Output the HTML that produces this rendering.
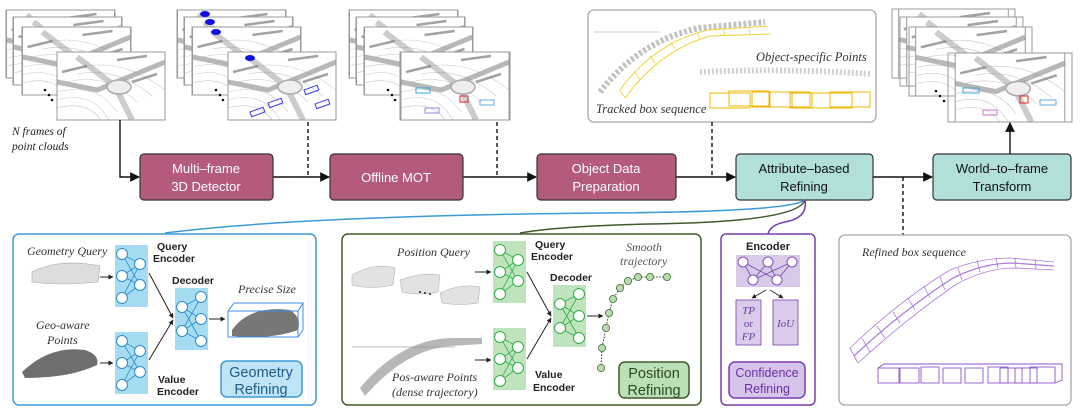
<!DOCTYPE html>
<html><head><meta charset="utf-8"><style>
html,body{margin:0;padding:0;background:#fff;}
svg{display:block;}
.s{font-family:"Liberation Sans",sans-serif;}
.i{font-family:"Liberation Serif",serif;font-style:italic;}
</style></head><body>
<svg width="1080" height="415" viewBox="0 0 1080 415" xmlns="http://www.w3.org/2000/svg">
<defs>
<marker id="ah" viewBox="0 0 10 10" refX="9" refY="5" markerWidth="7" markerHeight="7" orient="auto"><path d="M0,0L10,5L0,10z" fill="#111"/></marker>
<marker id="ahs" viewBox="0 0 10 10" refX="9" refY="5" markerWidth="5" markerHeight="5" orient="auto"><path d="M0,0L10,5L0,10z" fill="#222"/></marker>
<symbol id="pc" viewBox="0 0 108 68">
<rect x="0" y="0" width="108" height="68" fill="#fff"/>
<g fill="none" stroke="#c8c8c8" stroke-width="0.6">
<path d="M0,40 Q40,30 60,60"/><path d="M0,48 Q35,38 52,68"/><path d="M0,56 Q30,48 44,68"/><path d="M10,30 Q50,20 80,50"/><path d="M20,22 Q60,14 95,44"/><path d="M30,14 Q70,8 108,38"/>
</g>
<path d="M0,30 L40,38 L108,10" stroke="#888" stroke-width="5" fill="none" opacity="0.6"/>
<path d="M20,5 L58,34 L75,68" stroke="#999" stroke-width="6" fill="none" opacity="0.5"/>
<ellipse cx="62" cy="35" rx="12" ry="7" fill="#eee" stroke="#aaa" stroke-width="1.5"/>
<path d="M5,20 L30,14 M60,8 L90,4 M75,30 L100,22" stroke="#666" stroke-width="2.5" opacity="0.6"/>
</symbol>
</defs>

<!-- stacks -->
<g stroke="#9a9a9a" stroke-width="1">
<svg x="6" y="10" width="109" height="68"><use href="#pc"/></svg><rect x="6" y="10" width="109" height="68" fill="none"/>
<svg x="13" y="17" width="109" height="68"><use href="#pc"/></svg><rect x="13" y="17" width="109" height="68" fill="none"/>
<svg x="22" y="27" width="109" height="68"><use href="#pc"/></svg><rect x="22" y="27" width="109" height="68" fill="none"/>
<svg x="57" y="52" width="108" height="68"><use href="#pc"/></svg><rect x="57" y="52" width="108" height="68" fill="none"/>

<svg x="177" y="10" width="109" height="68"><use href="#pc"/></svg><rect x="177" y="10" width="109" height="68" fill="none"/>
<svg x="184" y="17" width="109" height="68"><use href="#pc"/></svg><rect x="184" y="17" width="109" height="68" fill="none"/>
<svg x="192" y="27" width="109" height="68"><use href="#pc"/></svg><rect x="192" y="27" width="109" height="68" fill="none"/>
<svg x="228" y="52" width="108" height="68"><use href="#pc"/></svg><rect x="228" y="52" width="108" height="68" fill="none"/>

<svg x="349" y="10" width="109" height="68"><use href="#pc"/></svg><rect x="349" y="10" width="109" height="68" fill="none"/>
<svg x="356" y="17" width="109" height="68"><use href="#pc"/></svg><rect x="356" y="17" width="109" height="68" fill="none"/>
<svg x="364" y="27" width="109" height="68"><use href="#pc"/></svg><rect x="364" y="27" width="109" height="68" fill="none"/>
<svg x="400" y="52" width="110" height="68"><use href="#pc"/></svg><rect x="400" y="52" width="110" height="68" fill="none"/>

<svg x="892" y="9" width="123" height="69"><use href="#pc"/></svg><rect x="892" y="9" width="123" height="69" fill="none"/>
<svg x="900" y="17" width="123" height="69"><use href="#pc"/></svg><rect x="900" y="17" width="123" height="69" fill="none"/>
<svg x="909" y="27" width="123" height="69"><use href="#pc"/></svg><rect x="909" y="27" width="123" height="69" fill="none"/>
<svg x="948" y="53" width="124" height="69"><use href="#pc"/></svg><rect x="948" y="53" width="124" height="69" fill="none"/>
</g>
<!-- colored boxes on stacks -->
<g fill="none" stroke="#3a3af0" stroke-width="1">
<rect x="250" y="112" width="14" height="5" transform="rotate(-20 250 112)"/><rect x="268" y="103" width="14" height="5" transform="rotate(-20 268 103)"/><rect x="304" y="90" width="14" height="5" transform="rotate(-20 304 90)"/><rect x="315" y="104" width="14" height="5" transform="rotate(-20 315 104)"/>
</g>
<g fill="#1010e0"><ellipse cx="250" cy="58" rx="5" ry="3"/><ellipse cx="205" cy="14" rx="5" ry="3"/><ellipse cx="210" cy="22" rx="5" ry="3"/><ellipse cx="216" cy="32" rx="5" ry="3"/></g>
<g fill="none" stroke-width="1"><rect x="416" y="88" width="14" height="5" stroke="#3aa8d8"/><rect x="460" y="96" width="8" height="6" stroke="#e02020"/><rect x="480" y="100" width="14" height="5" stroke="#6ad" /><rect x="425" y="108" width="14" height="5" stroke="#8a8af0"/>
<rect x="963" y="88" width="16" height="5" stroke="#3aa8d8"/><rect x="1020" y="96" width="8" height="7" stroke="#e02020"/><rect x="1040" y="100" width="16" height="5" stroke="#6ad"/><rect x="983" y="110" width="14" height="5" stroke="#d070d0"/></g>
<g fill="#111"><circle cx="45" cy="90" r="1.3"/><circle cx="49" cy="95" r="1.3"/><circle cx="52" cy="100" r="1.3"/>
<circle cx="216" cy="90" r="1.3"/><circle cx="220" cy="95" r="1.3"/><circle cx="223" cy="100" r="1.3"/>
<circle cx="388" cy="90" r="1.3"/><circle cx="392" cy="95" r="1.3"/><circle cx="395" cy="100" r="1.3"/>
<circle cx="936" cy="91" r="1.3"/><circle cx="940" cy="96" r="1.3"/><circle cx="944" cy="101" r="1.3"/></g>

<text class="i" x="12" y="135" font-size="11.5" fill="#222">N  frames of</text>
<text class="i" x="12" y="150" font-size="11.5" fill="#222">point clouds</text>

<!-- tracked panel -->
<rect x="588" y="10" width="288" height="112" rx="6" fill="#fff" stroke="#a8a8a8" stroke-width="1.3"/>
<line x1="594" y1="32" x2="660" y2="32" stroke="#ccc"/>
<path d="M600,92 Q640,40 700,28 L765,22" stroke="#888" stroke-width="6" fill="none" opacity="0.5" stroke-dasharray="3 2"/>
<path d="M625,98 Q660,50 710,36 L770,34 M620,90 Q655,42 708,30 L768,26" stroke="#f2d23a" stroke-width="1" fill="none"/>
<path d="M625,98 L620,90 M640,80 L635,72 M655,63 L650,56 M675,48 L670,42 M700,40 L697,32 M725,36 L723,28 M750,35 L749,27" stroke="#f2d23a" stroke-width="0.8"/>
<path d="M700,72 Q780,68 872,74" stroke="#999" stroke-width="6" fill="none" opacity="0.45" stroke-dasharray="2 2"/>
<text class="i" x="756" y="61" font-size="12.5" fill="#333">Object-specific Points</text>
<text class="i" x="596" y="113" font-size="12.5" fill="#333">Tracked box sequence</text>
<g fill="none" stroke="#f0b400" stroke-width="1">
<rect x="710" y="93" width="40" height="15"/><rect x="729" y="91" width="40" height="15"/><rect x="752" y="92" width="40" height="15"/><rect x="770" y="92" width="40" height="15"/><rect x="790" y="93" width="40" height="15"/><rect x="812" y="93" width="40" height="15"/><rect x="830" y="92" width="40" height="15"/></g>

<!-- main flow lines -->
<g stroke="#111" stroke-width="1.4" fill="none">
<path d="M120,120 V177 H139" marker-end="url(#ah)"/>
<path d="M273,177 H329" marker-end="url(#ah)"/>
<path d="M463,177 H536" marker-end="url(#ah)"/>
<path d="M676,177 H735" marker-end="url(#ah)"/>
<path d="M873,177 H932" marker-end="url(#ah)"/>
<path d="M1010,154 V123" marker-end="url(#ah)"/>
</g>
<g stroke="#111" stroke-width="1.4" stroke-dasharray="4 3" fill="none">
<path d="M308,122 V177"/><path d="M497,122 V177"/><path d="M712,122 V177"/><path d="M903,177 V235"/>
</g>

<!-- pipeline boxes -->
<g stroke="#333" stroke-width="1.2">
<rect x="140" y="154" width="133" height="46" rx="4" fill="#b45b7d"/>
<rect x="330" y="154" width="133" height="46" rx="4" fill="#b45b7d"/>
<rect x="537" y="154" width="139" height="46" rx="4" fill="#b45b7d"/>
<rect x="736" y="154" width="137" height="46" rx="4" fill="#b1dfda"/>
<rect x="933" y="154" width="138" height="46" rx="4" fill="#b1dfda"/>
</g>
<g class="s" font-size="13" text-anchor="middle">
<text x="206" y="173" fill="#fff">Multi–frame</text><text x="206" y="191" fill="#fff">3D Detector</text>
<text x="396" y="182" fill="#fff">Offline MOT</text>
<text x="606" y="173" fill="#fff">Object Data</text><text x="606" y="191" fill="#fff">Preparation</text>
<text x="804" y="173" fill="#111">Attribute–based</text><text x="804" y="191" fill="#111">Refining</text>
<text x="1002" y="173" fill="#111">World–to–frame</text><text x="1002" y="191" fill="#111">Transform</text>
</g>

<!-- curves -->
<path d="M805,200 Q790,212 600,213 Q300,216 165,233" stroke="#3d9ad6" stroke-width="1.5" fill="none"/>
<path d="M805,200 Q798,222 650,224 Q560,226 520,233" stroke="#3e5a2c" stroke-width="1.5" fill="none"/>
<path d="M805,200 Q808,218 785,222 Q770,225 768,234" stroke="#7a3fb0" stroke-width="1.5" fill="none"/>

<!-- Geometry panel -->
<rect x="13" y="234" width="303" height="171" rx="6" fill="#fff" stroke="#3d9ad6" stroke-width="1.5"/>
<text class="i" x="27" y="255" font-size="12" fill="#333">Geometry Query</text>
<path d="M32,272 Q60,258 100,266 L98,282 Q60,286 32,282z" fill="#ddd" stroke="#aaa" stroke-width="0.6"/>
<text class="i" x="36" y="329" font-size="12" fill="#333">Geo-aware</text>
<text class="i" x="47" y="344" font-size="12" fill="#333">Points</text>
<path d="M22,372 Q50,345 85,350 Q100,355 97,365 Q70,378 25,378z" fill="#6e6e6e"/>
<g stroke="#222" stroke-width="1" fill="none">
<path d="M100,277 H113" marker-end="url(#ahs)"/><path d="M100,363 H113" marker-end="url(#ahs)"/>
<path d="M149,273 L173,318" marker-end="url(#ahs)"/><path d="M149,360 L173,320" marker-end="url(#ahs)"/>
<path d="M209,319 H225" marker-end="url(#ahs)"/>
</g>
<g id="nn1">
<rect x="115" y="245" width="33" height="62" fill="#a6dcf1"/>
<rect x="115" y="332" width="33" height="62" fill="#a6dcf1"/>
<rect x="175" y="288" width="33" height="62" fill="#a6dcf1"/>
</g>
<g stroke="#2a8ad0" stroke-width="0.8" fill="none">
<path d="M122,254 L140,264 M122,254 L140,285 M122,276 L140,264 M122,276 L140,285 M122,298 L140,264 M122,298 L140,285"/>
<path d="M122,341 L140,351 M122,341 L140,372 M122,363 L140,351 M122,363 L140,372 M122,385 L140,351 M122,385 L140,372"/>
<path d="M182,307 L201,297 M182,307 L201,319 M182,307 L201,341 M182,331 L201,297 M182,331 L201,319 M182,331 L201,341"/>
</g>
<g fill="#fff" stroke="#2a8ad0" stroke-width="1">
<circle cx="122" cy="254" r="5.5"/><circle cx="122" cy="276" r="5.5"/><circle cx="122" cy="298" r="5.5"/><circle cx="140" cy="264" r="5.5"/><circle cx="140" cy="285" r="5.5"/>
<circle cx="122" cy="341" r="5.5"/><circle cx="122" cy="363" r="5.5"/><circle cx="122" cy="385" r="5.5"/><circle cx="140" cy="351" r="5.5"/><circle cx="140" cy="372" r="5.5"/>
<circle cx="182" cy="307" r="5.5"/><circle cx="182" cy="331" r="5.5"/><circle cx="201" cy="297" r="5.5"/><circle cx="201" cy="319" r="5.5"/><circle cx="201" cy="341" r="5.5"/>
</g>
<g class="s" font-size="10.5" font-weight="bold" fill="#222">
<text x="157" y="250">Query</text><text x="153" y="262">Encoder</text>
<text x="172" y="284">Decoder</text>
<text x="158" y="383">Value</text><text x="157" y="395">Encoder</text>
</g>
<text class="i" x="238" y="293" font-size="12" fill="#333">Precise Size</text>
<path d="M232,330 Q250,305 290,310 Q302,318 298,330 Q270,340 232,336z" fill="#777"/>
<g fill="none" stroke="#3d8ee6" stroke-width="1"><rect x="228" y="311" width="70" height="26"/><path d="M228,311 L234,303 H303 L298,311 M303,303 V330 L298,337"/></g>
<rect x="221" y="361" width="81" height="36" rx="6" fill="#bfe4f6" stroke="#3d9ad6" stroke-width="1.5"/>
<text class="s" x="261" y="377" font-size="14.5" text-anchor="middle" fill="#1c5d8a">Geometry</text>
<text class="s" x="261" y="394" font-size="14.5" text-anchor="middle" fill="#1c5d8a">Refining</text>

<!-- Position panel -->
<rect x="342" y="234" width="359" height="171" rx="6" fill="#fff" stroke="#3e5a2c" stroke-width="1.5"/>
<text class="i" x="397" y="256" font-size="12" fill="#333">Position Query</text>
<g fill="#e2e2e2" stroke="#aaa" stroke-width="0.5">
<path d="M352,275 Q375,262 395,268 L393,285 Q370,290 352,285z"/><path d="M400,280 Q420,272 440,275 L438,292 Q420,296 402,292z"/><path d="M440,293 Q460,283 480,287 L478,303 Q460,306 442,303z"/></g>
<g fill="#222"><circle cx="420" cy="292" r="1"/><circle cx="425" cy="293" r="1"/><circle cx="430" cy="294" r="1"/></g>
<line x1="352" y1="347" x2="455" y2="347" stroke="#bbb"/>
<path d="M360,388 Q400,340 450,338 L482,338 L482,344 L450,346 Q405,350 365,396z" fill="#999" opacity="0.7"/>
<text class="i" x="392" y="381" font-size="12" fill="#333">Pos-aware Points</text>
<text class="i" x="392" y="396" font-size="12" fill="#333">(dense trajectory)</text>
<g stroke="#222" stroke-width="1" fill="none">
<path d="M475,272 H491" marker-end="url(#ahs)"/><path d="M475,360 H491" marker-end="url(#ahs)"/>
<path d="M527,272 L551,316" marker-end="url(#ahs)"/><path d="M527,359 L551,318" marker-end="url(#ahs)"/>
<path d="M587,316 H603" marker-end="url(#ahs)"/>
</g>
<rect x="493" y="241" width="33" height="62" fill="#bfe3bd"/>
<rect x="493" y="328" width="33" height="62" fill="#bfe3bd"/>
<rect x="553" y="285" width="33" height="62" fill="#bfe3bd"/>
<g stroke="#2fb046" stroke-width="0.8" fill="none">
<path d="M500,250 L518,260 M500,250 L518,281 M500,272 L518,260 M500,272 L518,281 M500,294 L518,260 M500,294 L518,281"/>
<path d="M500,337 L518,347 M500,337 L518,368 M500,359 L518,347 M500,359 L518,368 M500,381 L518,347 M500,381 L518,368"/>
<path d="M560,304 L579,294 M560,304 L579,316 M560,304 L579,338 M560,328 L579,294 M560,328 L579,316 M560,328 L579,338"/>
</g>
<g fill="#fff" stroke="#2fb046" stroke-width="1">
<circle cx="500" cy="250" r="5.5"/><circle cx="500" cy="272" r="5.5"/><circle cx="500" cy="294" r="5.5"/><circle cx="518" cy="260" r="5.5"/><circle cx="518" cy="281" r="5.5"/>
<circle cx="500" cy="337" r="5.5"/><circle cx="500" cy="359" r="5.5"/><circle cx="500" cy="381" r="5.5"/><circle cx="518" cy="347" r="5.5"/><circle cx="518" cy="368" r="5.5"/>
<circle cx="560" cy="304" r="5.5"/><circle cx="560" cy="328" r="5.5"/><circle cx="579" cy="294" r="5.5"/><circle cx="579" cy="316" r="5.5"/><circle cx="579" cy="338" r="5.5"/>
</g>
<g class="s" font-size="10.5" font-weight="bold" fill="#222">
<text x="535" y="248">Query</text><text x="531" y="260">Encoder</text>
<text x="550" y="281">Decoder</text>
<text x="535" y="378">Value</text><text x="533" y="391">Encoder</text>
</g>
<text class="i" x="626" y="251" font-size="12" fill="#555">Smooth</text>
<text class="i" x="620" y="265" font-size="12" fill="#555">trajectory</text>
<path d="M601,368 L602,348 L606,328 L609,313 L613,299 L620,288 L628,281 L638,277 L650,277 L667,277" stroke="#333" stroke-width="1" stroke-dasharray="1.5 1.5" fill="none"/>
<g fill="#b6dcae" stroke="#4f7a45" stroke-width="0.9">
<circle cx="601" cy="368" r="3.6"/><circle cx="602" cy="348" r="3.6"/><circle cx="606" cy="328" r="3.6"/><circle cx="609" cy="313" r="3.6"/><circle cx="613" cy="299" r="3.6"/><circle cx="620" cy="288" r="3.6"/><circle cx="628" cy="281" r="3.6"/><circle cx="638" cy="277" r="3.6"/><circle cx="650" cy="277" r="3.6"/><circle cx="667" cy="277" r="3.6"/></g>
<rect x="619" y="362" width="70" height="36" rx="6" fill="#bce0b6" stroke="#3e5a2c" stroke-width="1.5"/>
<text class="s" x="654" y="378" font-size="14.5" text-anchor="middle" fill="#2e4a22">Position</text>
<text class="s" x="654" y="395" font-size="14.5" text-anchor="middle" fill="#2e4a22">Refining</text>

<!-- Confidence panel -->
<rect x="721" y="234" width="94" height="171" rx="5" fill="#fff" stroke="#7a3fb0" stroke-width="1.5"/>
<text class="s" x="768" y="250" font-size="11" font-weight="bold" text-anchor="middle" fill="#222">Encoder</text>
<rect x="736" y="255" width="64" height="32" fill="#d9c9e8"/>
<g stroke="#7a3fb0" stroke-width="0.8" fill="none"><path d="M743,262 L753,280 M743,262 L777,280 M768,262 L753,280 M768,262 L777,280 M792,262 L753,280 M792,262 L777,280"/></g>
<g fill="#fff" stroke="#8a4fc0" stroke-width="1"><circle cx="743" cy="262" r="5"/><circle cx="768" cy="262" r="5"/><circle cx="792" cy="262" r="5"/><circle cx="753" cy="280" r="5"/><circle cx="777" cy="280" r="5"/></g>
<g stroke="#222" stroke-width="0.9" fill="none"><path d="M766,290 L752,298" marker-end="url(#ahs)"/><path d="M770,290 L783,298" marker-end="url(#ahs)"/></g>
<rect x="736" y="300" width="25" height="45" fill="#dacbea" stroke="#7a3fb0" stroke-width="0.8"/>
<rect x="773" y="300" width="25" height="45" fill="#dacbea" stroke="#7a3fb0" stroke-width="0.8"/>
<g class="i" font-size="11" fill="#6a3aa0" text-anchor="middle">
<text x="748.5" y="314">TP</text><text x="748.5" y="327" font-style="normal">or</text><text x="748.5" y="340">FP</text>
<text x="785.5" y="327">IoU</text></g>
<rect x="729" y="362" width="76" height="36" rx="6" fill="#d6c4ea" stroke="#7a3fb0" stroke-width="1.5"/>
<text class="s" x="767" y="377" font-size="12.5" text-anchor="middle" fill="#6a2fa8">Confidence</text>
<text class="s" x="767" y="393" font-size="12.5" text-anchor="middle" fill="#6a2fa8">Refining</text>

<!-- Refined panel -->
<rect x="839" y="235" width="232" height="170" rx="6" fill="#fff" stroke="#a8a8a8" stroke-width="1.3"/>
<text class="i" x="862" y="256" font-size="12" fill="#333">Refined box sequence</text>
<g fill="none" stroke="#b07ae0" stroke-width="0.8">
<path d="M850,348 Q900,300 950,270 Q980,258 1010,258 L1054,262"/>
<path d="M858,363 Q905,320 955,285 Q985,268 1015,268 L1054,270"/>
<path d="M854,356 Q903,310 953,278 Q983,263 1013,263 L1054,266" stroke-width="1.3"/>
<path d="M858,363 L850,348 M870,352 L862,338 M885,338 L877,326 M900,323 L893,312 M915,310 L908,298 M930,298 L924,286 M945,290 L940,277 M962,280 L958,268 M980,272 L977,260 M998,268 L996,258 M1016,268 L1015,258 M1036,269 L1035,259"/>
</g>
<g fill="none" stroke="#8e55c8" stroke-width="0.9">
<rect x="878" y="368" width="22" height="15"/><rect x="899" y="368" width="20" height="15"/><rect x="921" y="367" width="18" height="16"/><rect x="943" y="368" width="18" height="15"/><rect x="965" y="368" width="18" height="15"/><rect x="988" y="367" width="20" height="16"/><rect x="1000" y="368" width="22" height="15"/><rect x="1015" y="368" width="22" height="15"/><rect x="1030" y="367" width="25" height="16"/>
<path d="M878,368 L884,364 H1062 V380 L1055,383"/>
</g>
</svg>
</body></html>
